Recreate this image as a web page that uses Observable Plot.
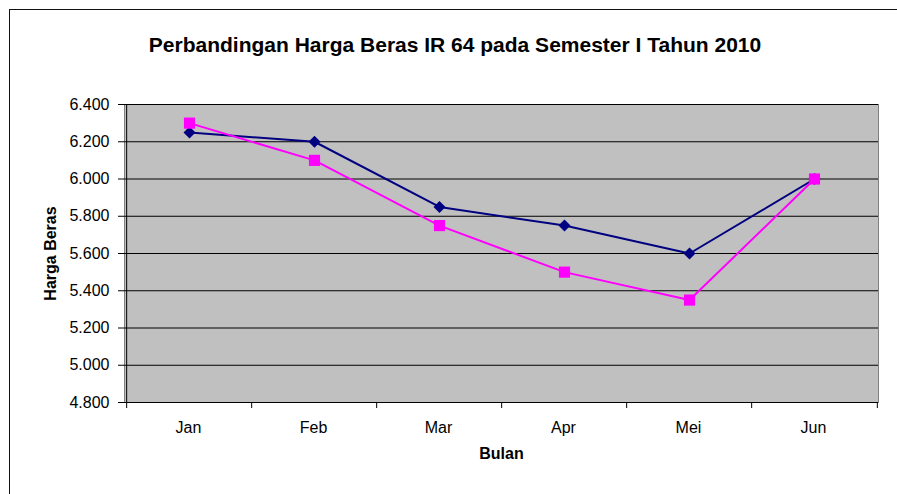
<!DOCTYPE html>
<html><head><meta charset="utf-8">
<script src="https://cdn.jsdelivr.net/npm/d3@7"></script>
<script src="https://cdn.jsdelivr.net/npm/@observablehq/plot@0.6"></script>
<style>
html,body{margin:0;padding:0;background:#fff;overflow:hidden;}
#wrap{position:relative;width:897px;height:494px;font-family:"Liberation Sans",Arial,sans-serif;overflow:hidden;}
#border{position:absolute;left:9px;top:9px;width:960px;height:560px;border:1px solid #111;box-sizing:border-box;}
#title{position:absolute;left:9px;width:892px;top:32px;text-align:center;font-weight:bold;font-size:21px;line-height:26px;color:#000;}
#chart{position:absolute;left:0;top:0;}
</style></head><body>
<div id="wrap"><div id="border"></div><div id="title">Perbandingan Harga Beras IR 64 pada Semester I Tahun 2010</div><div id="chart"></div></div>
<script>
const months = ["Jan","Feb","Mar","Apr","Mei","Jun"];
const hargaA = [6250,6200,5850,5750,5600,6000];
const hargaB = [6300,6100,5750,5500,5350,6000];
const yTicks = [4800,5000,5200,5400,5600,5800,6000,6200,6400];
const yTitle = "Harga Beras";
const xTitle = "Bulan";

const dataA = months.map((m,i)=>({bulan:m, harga:hargaA[i]}));
const dataB = months.map((m,i)=>({bulan:m, harga:hargaB[i]}));

const W = 897, H = 494;
const mL = 124, mR = 19, mT = 104, mB = 92;
const step = (W - mL - mR) / months.length;
const fmt = d => d3.format(",")(d).replace(/,/g, ".");

const diamond = {
  draw(ctx, size) {
    const h = Math.sqrt(size / 2);
    ctx.moveTo(0, -h); ctx.lineTo(h, 0); ctx.lineTo(0, h); ctx.lineTo(-h, 0); ctx.closePath();
  }
};

const chart = Plot.plot({
  width: W, height: H,
  marginLeft: mL, marginRight: mR, marginTop: mT, marginBottom: mB,
  style: {fontFamily: '"Liberation Sans", Arial, sans-serif', background: "transparent", color: "#000"},
  x: {type: "point", domain: months, padding: 0.5, axis: null},
  y: {type: "linear", domain: [4800, 6400], axis: null},
  marks: [
    Plot.frame({fill: "#c0c0c0", stroke: "#808080"}),
    Plot.gridY(yTicks, {stroke: "#000", strokeOpacity: 1, strokeWidth: 1}),
    Plot.ruleY([4800], {stroke: "#000", strokeWidth: 1}),
    Plot.ruleX([months[0]], {stroke: "#000", dx: -step/2, y1: 4800, y2: 6400}),
    Plot.axisY(yTicks, {tickSize: 6, tickPadding: 9, fontSize: 16, tickFormat: fmt, stroke: "#000", label: null}),
    Plot.axisX(months, {tickSize: 6, tickFormat: () => "", dx: -step/2, label: null, stroke: "#000"}),
    Plot.axisX([months[months.length-1]], {tickSize: 6, tickFormat: () => "", dx: step/2, label: null, stroke: "#000"}),
    Plot.axisX(months, {tickSize: 0, tickPadding: 19, fontSize: 16, label: null, dx: -1}),
    Plot.line(dataA, {x: "bulan", y: "harga", stroke: "#000080", strokeWidth: 2}),
    Plot.dot(dataA, {x: "bulan", y: "harga", symbol: diamond, r: 4.8, fill: "#000080", stroke: "none"}),
    Plot.line(dataB, {x: "bulan", y: "harga", stroke: "#ff00ff", strokeWidth: 2}),
    Plot.dot(dataB, {x: "bulan", y: "harga", symbol: "square", r: 6.3, fill: "#ff00ff", stroke: "none"}),
    Plot.text([yTitle], {frameAnchor: "left", textAnchor: "middle", rotate: -90, dx: -74, fontWeight: "bold", fontSize: 16}),
    Plot.text([xTitle], {frameAnchor: "bottom", dy: 56, fontWeight: "bold", fontSize: 16})
  ]
});
document.getElementById("chart").appendChild(chart);
</script>
</body></html>
